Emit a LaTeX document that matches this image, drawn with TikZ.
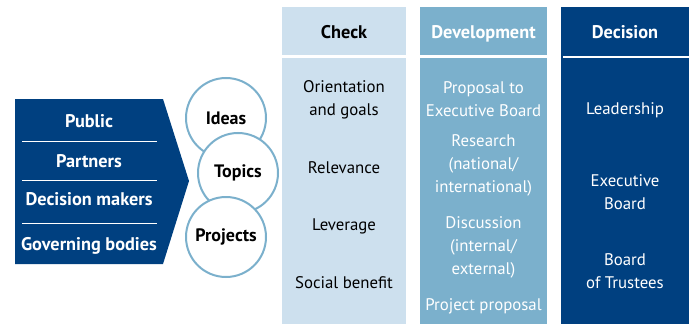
\documentclass[tikz,border=0pt]{standalone}
\usepackage{fontspec}
\setmainfont{PT Sans}
\definecolor{lightb}{HTML}{CDE0EE}
\definecolor{midb}{HTML}{7BB0CC}
\definecolor{darkb}{HTML}{004080}
\begin{document}
\begin{tikzpicture}[x=1pt,y=-1pt,
  txt/.style={font=\fontsize{16.8}{23}\selectfont, align=center, inner sep=0pt},
  wtxt/.style={txt, text=white},
  btxt/.style={txt, font=\fontsize{18.3}{23}\selectfont\bfseries},
  bwtxt/.style={btxt, text=white},
  head/.style={anchor=base},
  circ/.style={circle, draw=midb, line width=2pt, fill=white, minimum size=80pt, inner sep=0pt, font=\fontsize{18}{20}\selectfont\bfseries},
  sep/.style={draw=white, line width=1pt}]
\useasboundingbox (0,0) rectangle (689,324);
% columns
\fill[lightb] (282,7) rectangle (406,55);
\fill[lightb] (282,58) rectangle (406,324);
\fill[midb] (420,7) rectangle (547,55);
\fill[midb] (420,58) rectangle (547,324);
\fill[darkb] (561,7) rectangle (689,324);
\draw[white, line width=1.5pt] (563,57) -- (689,57);
% left arrow block
\fill[darkb] (15,99) -- (163,99) -- (189,181) -- (163,264) -- (15,264) -- cycle;
\draw[sep] (22,141) -- (157,141);
\draw[sep] (22,180) -- (157,180);
\draw[sep] (22,223) -- (157,223);
\node[bwtxt,head] (pub) at (89,127) {Public};
\node[bwtxt,head] (par) at (89,167) {Partners};
\node[bwtxt,head] (dm) at (89,205) {Decision makers};
\node[bwtxt,head] (gb) at (89,250) {Governing bodies};
% circles
\node[circ] (ideas) at (226,118) {Ideas};
\node[circ] (topics) at (238,173) {Topics};
\node[circ] (projects) at (226,237) {Projects};
% headers
\node[btxt,head] (hcheck) at (344,38) {Check};
\node[bwtxt,head] (hdev) at (483.5,38) {Development};
\node[bwtxt,head] (hdec) at (625,38) {Decision};
% check column
\node[txt] (c1) at (344,99.5) {Orientation\\and goals};
\node[txt] (c2) at (344,168) {Relevance};
\node[txt] (c3) at (344,226) {Leverage};
\node[txt] (c4) at (344,283) {Social benefit};
% development column
\node[wtxt] (d1) at (483.5,99.5) {Proposal to\\Executive Board};
\node[wtxt] (d2) at (483.5,165.5) {Research\\(national/\\international)};
\node[wtxt] (d3) at (483.5,247) {Discussion\\(internal/\\external)};
\node[wtxt] (d4) at (483.5,306) {Project proposal};
% decision column
\node[wtxt] (e1) at (625,110) {Leadership};
\node[wtxt] (e2) at (625,192) {Executive\\Board};
\node[wtxt] (e3) at (625,271) {Board\\of Trustees};
\end{tikzpicture}
\end{document}
